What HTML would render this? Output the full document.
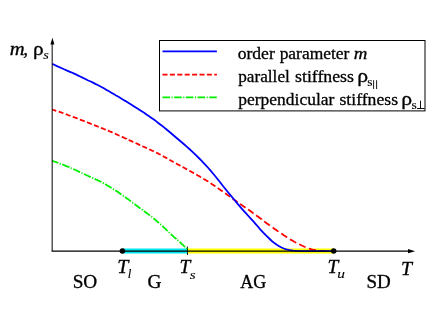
<!DOCTYPE html>
<html><head><meta charset="utf-8">
<style>
html,body{margin:0;padding:0;background:#fff;}
body{width:436px;height:309px;overflow:hidden;}
svg{display:block;will-change:transform;}
text{font-family:"Liberation Serif",serif;fill:#000;stroke:#000;stroke-width:0.3px;}
</style></head><body>
<svg width="436" height="309" viewBox="0 0 436 309">
<rect width="436" height="309" fill="#fff"/>
<!-- bands -->
<line x1="122.5" y1="251.0" x2="187.5" y2="251.0" stroke="#00e6ee" stroke-width="5.2"/>
<line x1="187.5" y1="251.0" x2="333.5" y2="251.0" stroke="#ffff00" stroke-width="5.2"/>
<!-- axes -->
<path d="M52.4 37.7 L54.4 44.6 L50.4 44.6 Z" fill="#000"/>
<path d="M415.2 251.15 L408 249.1 L408 253.2 Z" fill="#000"/>
<line x1="187.5" y1="246.5" x2="187.5" y2="255" stroke="#000" stroke-width="0.85"/>
<!-- curves -->
<path id="green" d="M52.3 160.8 L53.3 161.1 L54.3 161.5 L55.2 161.8 L56.2 162.1 L57.2 162.5 L58.2 162.8 L58.3 162.9 M59.8 163.4 L60.0 163.5 L60.1 163.6 L60.3 163.6 L60.5 163.7 L60.7 163.8 L60.8 163.8 M62.3 164.4 L63.5 164.8 L64.6 165.3 L65.8 165.8 L66.9 166.3 L68.1 166.7 L69.2 167.2 L69.3 167.3 M70.7 167.9 L70.9 168.0 L71.1 168.1 L71.2 168.1 L71.4 168.2 L71.6 168.3 L71.7 168.3 M73.2 169.0 L74.3 169.5 L75.5 170.0 L76.6 170.5 L77.8 171.1 L78.9 171.6 L80.0 172.1 M81.5 172.8 L81.6 172.9 L81.8 173.0 L82.0 173.1 L82.2 173.1 L82.3 173.2 L82.5 173.3 M83.9 174.0 L85.0 174.5 L86.1 175.0 L87.2 175.5 L88.3 176.0 L89.5 176.6 L90.6 177.0 L90.7 177.1 M92.2 177.7 L92.3 177.8 L92.5 177.9 L92.7 178.0 L92.8 178.0 L93.0 178.1 L93.2 178.2 M94.6 178.8 L95.7 179.3 L96.9 179.8 L98.0 180.4 L99.1 180.9 L100.2 181.5 L101.3 182.0 L101.4 182.1 M102.8 182.8 L102.9 182.9 L103.1 183.0 L103.2 183.0 L103.4 183.1 L103.5 183.2 L103.6 183.3 L103.8 183.3 M105.2 184.1 L106.2 184.7 L107.3 185.4 L108.3 186.0 L109.4 186.6 L110.4 187.3 L111.5 187.9 L111.6 188.0 M113.0 188.8 L113.1 188.9 L113.3 189.0 L113.4 189.1 L113.5 189.2 L113.7 189.3 L113.8 189.4 L113.9 189.4 M115.3 190.3 L116.3 191.0 L117.3 191.6 L118.3 192.3 L119.3 193.0 L120.3 193.7 L121.3 194.4 L121.5 194.5 M122.8 195.4 L122.9 195.5 L123.1 195.6 L123.2 195.7 L123.3 195.8 L123.5 195.9 L123.6 196.0 L123.7 196.0 M125.0 196.9 L126.0 197.7 L127.0 198.4 L128.0 199.1 L129.0 199.9 L130.1 200.7 L131.0 201.4 M132.3 202.4 L132.5 202.5 L132.6 202.6 L132.7 202.7 L132.9 202.8 L133.0 202.9 L133.1 203.0 L133.2 203.0 M134.5 204.0 L135.4 204.7 L136.4 205.5 L137.4 206.2 L138.4 206.9 L139.4 207.7 L140.3 208.4 L140.5 208.5 M141.8 209.4 L141.9 209.5 L142.0 209.6 L142.2 209.7 L142.3 209.8 L142.4 209.9 L142.6 210.0 L142.6 210.1 M143.9 211.0 L144.9 211.7 L145.9 212.4 L146.9 213.2 L147.8 213.9 L148.8 214.6 L149.8 215.4 L149.9 215.5 M151.2 216.5 L151.4 216.6 L151.5 216.7 L151.6 216.8 L151.8 216.9 L151.9 217.0 L152.0 217.1 L152.1 217.2 M153.3 218.2 L154.2 218.9 L155.2 219.7 L156.1 220.5 L157.1 221.3 L158.0 222.2 L159.0 223.0 L159.0 223.0 M160.2 224.1 L160.4 224.2 L160.5 224.3 L160.6 224.5 L160.8 224.6 L160.9 224.7 L161.0 224.8 M162.2 225.9 L163.1 226.7 L164.0 227.6 L164.9 228.4 L165.9 229.3 L166.8 230.2 L167.7 231.0 M168.8 232.1 L169.0 232.3 L169.1 232.4 L169.2 232.5 L169.4 232.7 L169.5 232.8 L169.6 232.9 M170.8 234.0 L171.7 234.9 L172.6 235.7 L173.5 236.6 L174.4 237.4 L175.4 238.2 L176.3 239.0 L176.3 239.1 M177.5 240.1 L177.7 240.2 L177.8 240.4 L177.9 240.5 L178.1 240.6 L178.2 240.7 L178.3 240.8 M179.6 241.9 L180.5 242.7 L181.4 243.6 L182.3 244.4 L183.2 245.2 L184.1 246.1 L185.0 246.9 L185.1 247.0 M186.2 248.1 L186.4 248.2 L186.5 248.3 L186.6 248.4 L186.7 248.5 L186.8 248.6 L186.9 248.7 L187.0 248.9 L187.0 248.9" fill="none" stroke="#00f000" stroke-width="1.8"/>
<path id="red" d="M52.3 109.6 L52.9 109.8 L53.5 110.0 L54.2 110.2 L54.8 110.4 L55.4 110.6 L56.0 110.8 L56.3 110.9 M58.7 111.7 L59.4 111.9 L60.2 112.2 L61.0 112.4 L61.7 112.7 L62.5 113.0 L63.2 113.2 L63.4 113.3 M65.8 114.1 L66.5 114.4 L67.3 114.7 L68.0 115.0 L68.8 115.3 L69.5 115.5 L70.3 115.8 L70.5 115.9 M72.8 116.8 L73.6 117.1 L74.4 117.4 L75.1 117.7 L75.9 117.9 L76.6 118.2 L77.4 118.5 L77.6 118.6 M79.9 119.5 L80.7 119.8 L81.4 120.1 L82.2 120.3 L82.9 120.6 L83.7 120.9 L84.4 121.2 L84.7 121.3 M87.0 122.2 L87.7 122.5 L88.5 122.8 L89.3 123.1 L90.0 123.4 L90.8 123.7 L91.5 124.0 L91.7 124.0 M94.0 125.0 L94.8 125.3 L95.5 125.6 L96.3 125.9 L97.0 126.2 L97.8 126.5 L98.5 126.8 L98.7 126.8 M101.0 127.8 L101.8 128.1 L102.5 128.4 L103.3 128.7 L104.0 129.0 L104.8 129.3 L105.5 129.6 L105.7 129.7 M107.9 130.6 L108.7 130.9 L109.5 131.3 L110.2 131.6 L111.0 131.9 L111.7 132.2 L112.5 132.5 L112.6 132.6 M114.9 133.6 L115.6 133.9 L116.4 134.3 L117.1 134.6 L117.9 135.0 L118.7 135.3 L119.4 135.7 L119.5 135.7 M121.8 136.8 L122.6 137.1 L123.3 137.4 L124.1 137.8 L124.8 138.1 L125.6 138.5 L126.4 138.8 L126.4 138.9 M128.7 139.9 L129.4 140.2 L130.2 140.6 L131.0 140.9 L131.7 141.2 L132.5 141.6 L133.2 141.9 L133.3 141.9 M135.6 143.0 L136.3 143.3 L137.1 143.7 L137.8 144.0 L138.6 144.4 L139.3 144.7 L140.1 145.1 L140.2 145.1 M142.4 146.1 L143.2 146.5 L143.9 146.8 L144.7 147.2 L145.4 147.5 L146.2 147.9 L147.0 148.2 M149.2 149.3 L150.0 149.7 L150.7 150.0 L151.5 150.4 L152.2 150.7 L153.0 151.0 L153.8 151.4 L153.8 151.4 M156.1 152.5 L156.8 152.8 L157.6 153.2 L158.4 153.6 L159.1 154.0 L159.9 154.4 L160.6 154.8 M162.8 156.0 L163.4 156.4 L164.1 156.8 L164.8 157.1 L165.5 157.5 L166.2 157.9 L166.9 158.3 L167.2 158.5 M169.4 159.7 L170.0 160.1 L170.7 160.5 L171.4 160.9 L172.1 161.2 L172.8 161.6 L173.5 162.0 L173.7 162.1 M175.9 163.4 L176.7 163.8 L177.5 164.2 L178.2 164.6 L179.0 165.0 L179.7 165.4 L180.4 165.8 M182.6 167.0 L183.4 167.4 L184.1 167.8 L184.9 168.2 L185.6 168.6 L186.4 169.1 L187.1 169.5 M189.4 170.7 L190.2 171.1 L190.9 171.5 L191.7 171.9 L192.4 172.4 L193.2 172.8 L193.9 173.2 L194.1 173.3 M196.3 174.6 L197.1 175.0 L197.9 175.5 L198.6 175.9 L199.4 176.3 L200.1 176.8 L200.9 177.2 L201.1 177.3 M203.4 178.7 L204.2 179.2 L204.9 179.6 L205.7 180.1 L206.4 180.5 L207.2 181.0 L208.0 181.5 L208.2 181.7 M210.6 183.2 L211.4 183.7 L212.1 184.2 L212.9 184.7 L213.7 185.2 L214.4 185.7 L215.2 186.2 L215.4 186.4 M217.8 188.0 L218.6 188.6 L219.4 189.2 L220.3 189.8 L221.1 190.4 L221.9 190.9 L222.7 191.5 M225.1 193.2 L225.9 193.8 L226.7 194.4 L227.5 195.0 L228.4 195.5 L229.2 196.1 L230.0 196.7 M232.5 198.5 L233.3 199.1 L234.1 199.7 L235.0 200.3 L235.8 200.8 L236.6 201.4 L237.4 202.0 L237.6 202.1 M240.1 203.9 L241.0 204.6 L241.9 205.2 L242.8 205.8 L243.7 206.4 L244.6 207.0 L245.5 207.7 M248.1 209.5 L249.0 210.1 L249.9 210.7 L250.8 211.3 L251.6 212.0 L252.5 212.6 L253.4 213.3 L253.5 213.3 M256.1 215.3 L257.0 216.0 L257.9 216.6 L258.8 217.3 L259.7 218.0 L260.6 218.6 L261.5 219.3 L261.5 219.4 M264.2 221.4 L265.1 222.1 L266.0 222.7 L266.9 223.4 L267.8 224.0 L268.7 224.7 L269.6 225.3 L269.8 225.5 M272.7 227.6 L273.6 228.2 L274.6 228.9 L275.5 229.6 L276.5 230.3 L277.5 230.9 L278.4 231.6 M281.3 233.5 L282.2 234.1 L283.2 234.8 L284.1 235.4 L285.1 236.0 L286.1 236.7 L287.0 237.3 L287.2 237.4 M290.1 239.2 L291.1 239.9 L292.2 240.5 L293.2 241.1 L294.2 241.7 L295.3 242.2 L296.2 242.7 M299.2 244.3 L300.3 244.8 L301.3 245.3 L302.3 245.8 L303.4 246.3 L304.4 246.8 L305.4 247.2 L305.6 247.3 M308.9 248.5 L310.0 248.8 L311.1 249.2 L312.2 249.5 L313.3 249.8 L314.4 250.0 L315.5 250.2 L315.7 250.3 M319.1 250.8 L320.3 250.9 L321.4 251.0 L322.6 251.0 L323.8 251.1 L324.9 251.2 L326.1 251.2 L326.2 251.2" fill="none" stroke="#ff0000" stroke-width="1.8"/>
<path id="blue" d="M52.3 63.9 L54.7 65.0 L57.0 66.1 L59.4 67.2 L61.8 68.2 L64.1 69.3 L66.5 70.3 L68.8 71.3 L71.2 72.3 L73.6 73.4 L75.9 74.4 L78.3 75.6 L80.7 76.7 L83.0 77.9 L85.4 79.0 L87.7 80.2 L90.1 81.3 L92.5 82.4 L94.8 83.6 L97.2 84.8 L99.6 86.0 L101.9 87.2 L104.3 88.5 L106.6 89.9 L109.0 91.3 L111.4 92.7 L113.7 94.1 L116.1 95.5 L118.5 96.8 L120.8 98.3 L123.2 99.7 L125.6 101.1 L127.9 102.6 L130.3 104.1 L132.6 105.6 L135.0 107.1 L137.4 108.6 L139.7 110.1 L142.1 111.6 L144.5 113.1 L146.8 114.7 L149.2 116.3 L151.5 117.9 L153.9 119.6 L156.3 121.4 L158.6 123.2 L161.0 125.0 L163.4 126.9 L165.7 128.8 L168.1 130.8 L170.5 132.8 L172.8 134.8 L175.2 136.8 L177.5 138.8 L179.9 140.8 L182.3 142.8 L184.6 144.8 L187.0 146.9 L189.4 149.0 L191.7 151.2 L194.1 153.4 L196.4 155.7 L198.8 158.0 L201.2 160.4 L203.5 162.9 L205.9 165.4 L208.3 168.0 L210.6 170.7 L213.0 173.5 L215.3 176.3 L217.7 179.3 L220.1 182.3 L222.4 185.3 L224.8 188.2 L227.2 191.2 L229.5 194.0 L231.9 196.9 L234.3 199.8 L236.6 202.6 L239.0 205.4 L241.3 208.1 L243.7 210.8 L246.1 213.4 L248.4 216.0 L250.8 218.6 L253.2 221.2 L255.5 223.8 L257.9 226.5 L260.2 229.3 L262.6 231.9 L265.0 234.4 L267.3 236.7 L269.7 239.0 L272.1 241.2 L274.4 243.1 L276.8 244.8 L279.2 246.3 L281.5 247.5 L283.9 248.5 L286.2 249.3 L288.6 249.9 L291.0 250.3 L293.3 250.7 L295.7 250.9 L298.1 251.1 L300.4 251.1 L302.8 251.2 L305.1 251.2 L307.5 251.2 L309.9 251.2 L312.2 251.2 L314.6 251.2 L317.0 251.2 L319.3 251.2 L321.7 251.2 L324.0 251.2 L326.4 251.2 L328.8 251.2 L331.1 251.2 L333.5 251.2" fill="none" stroke="#0000ff" stroke-width="1.8"/>
<path d="M52.17 44 V251.25" fill="none" stroke="#000" stroke-width="1"/>
<path d="M51.67 251.2 H409" fill="none" stroke="#000" stroke-width="1.2"/>
<circle cx="122.4" cy="251.1" r="2.75" fill="#000"/>
<circle cx="333.7" cy="251.1" r="2.75" fill="#000"/>
<!-- legend -->
<rect x="159.5" y="40.5" width="265.5" height="70.4" fill="#fff" stroke="#000" stroke-width="1"/>
<line x1="162.5" y1="51.4" x2="216.9" y2="51.4" stroke="#0000ff" stroke-width="1.8"/>
<line x1="162.5" y1="74.6" x2="216.9" y2="74.6" stroke="#ff0000" stroke-width="1.8" stroke-dasharray="5 2.4"/>
<line x1="162.5" y1="97.4" x2="216.9" y2="97.4" stroke="#00f000" stroke-width="1.8" stroke-dasharray="7.5 1.55 1.1 1.55"/>
<text x="237.70" y="59.0" font-size="17.6" textLength="37.08" lengthAdjust="spacingAndGlyphs">order</text>
<text x="279.65" y="59.0" font-size="17.6" textLength="69.77" lengthAdjust="spacingAndGlyphs">parameter</text>
<text x="353.84" y="59.0" font-size="17.6" textLength="13.65" lengthAdjust="spacingAndGlyphs" font-style="italic">m</text>
<text x="238.26" y="82.0" font-size="17.6" textLength="51.56" lengthAdjust="spacingAndGlyphs">parallel</text>
<text x="295.09" y="82.0" font-size="17.6" textLength="58.83" lengthAdjust="spacingAndGlyphs">stiffness</text>
<text x="357.19" y="82.2" font-size="18.6" textLength="10.85" lengthAdjust="spacingAndGlyphs">ρ</text>
<text style="stroke-width:0.12px" x="367.26" y="86.4" font-size="12.5" textLength="5.27" lengthAdjust="spacingAndGlyphs">s</text>
<path d="M373.6 80.2 V89 M376.6 80.2 V89" stroke="#000" stroke-width="0.9" fill="none"/>
<text x="238.25" y="104.7" font-size="17.6" textLength="96.08" lengthAdjust="spacingAndGlyphs">perpendicular</text>
<text x="339.49" y="104.7" font-size="17.6" textLength="58.52" lengthAdjust="spacingAndGlyphs">stiffness</text>
<text x="401.19" y="104.9" font-size="18.6" textLength="10.85" lengthAdjust="spacingAndGlyphs">ρ</text>
<text style="stroke-width:0.12px" x="411.46" y="109.10000000000001" font-size="12.5" textLength="5.27" lengthAdjust="spacingAndGlyphs">s</text>
<path d="M420.5 100.7 V108.5 M417 108.5 H424.5" stroke="#000" stroke-width="0.95" fill="none"/>
<text x="9.88" y="54.6" font-size="19" textLength="14.90" lengthAdjust="spacingAndGlyphs" font-style="italic">m</text>
<text x="23.21" y="54.6" font-size="19" textLength="4.75" lengthAdjust="spacingAndGlyphs" font-style="italic">,</text>
<text x="33.02" y="55.0" font-size="18.6" textLength="10.61" lengthAdjust="spacingAndGlyphs">ρ</text>
<text style="stroke-width:0.12px" x="43.36" y="59.0" font-size="13.5" textLength="5.56" lengthAdjust="spacingAndGlyphs" font-style="italic">s</text>
<text x="72.65" y="288" font-size="18" textLength="24.59" lengthAdjust="spacingAndGlyphs">SO</text>
<text x="147.52" y="287.7" font-size="18" textLength="14.00" lengthAdjust="spacingAndGlyphs">G</text>
<text x="240.22" y="287.8" font-size="18" textLength="26.00" lengthAdjust="spacingAndGlyphs">AG</text>
<text x="366.47" y="288" font-size="18" textLength="24.26" lengthAdjust="spacingAndGlyphs">SD</text>
<text x="117.20" y="273" font-size="18" textLength="11.13" lengthAdjust="spacingAndGlyphs" font-style="italic">T</text>
<text style="stroke-width:0.12px" x="127.70" y="277.5" font-size="13" textLength="3.61" lengthAdjust="spacingAndGlyphs" font-style="italic">l</text>
<text x="179.54" y="273" font-size="18" textLength="10.82" lengthAdjust="spacingAndGlyphs" font-style="italic">T</text>
<text style="stroke-width:0.12px" x="189.65" y="278.7" font-size="13.5" textLength="5.89" lengthAdjust="spacingAndGlyphs" font-style="italic">s</text>
<text x="327.44" y="273" font-size="18" textLength="10.82" lengthAdjust="spacingAndGlyphs" font-style="italic">T</text>
<text style="stroke-width:0.12px" x="337.33" y="277.8" font-size="13.5" textLength="7.68" lengthAdjust="spacingAndGlyphs" font-style="italic">u</text>
<text x="401.11" y="275.2" font-size="18" textLength="11.02" lengthAdjust="spacingAndGlyphs" font-style="italic">T</text>
</svg>
</body></html>
